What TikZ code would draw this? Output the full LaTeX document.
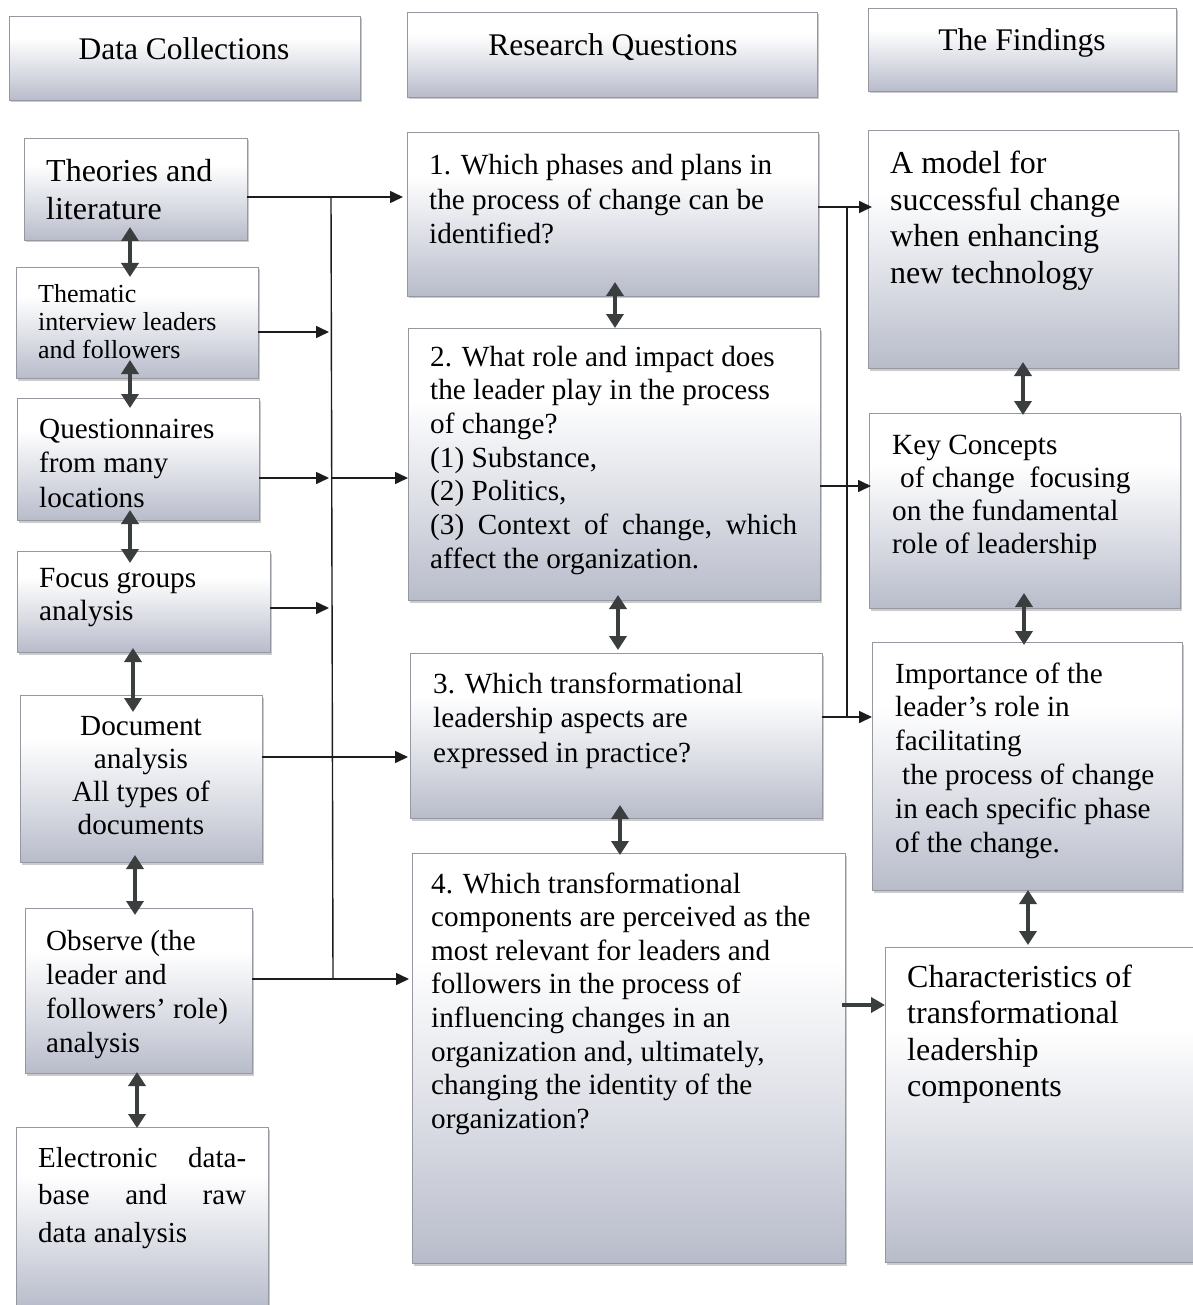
\documentclass[tikz,border=0pt]{standalone}
\usepackage{fontspec}
\setmainfont{Liberation Serif}
\usetikzlibrary{arrows.meta,shadows}

\definecolor{boxbot}{RGB}{184,188,202}
\definecolor{boxmid}{RGB}{218,220,228}
\definecolor{boxline}{RGB}{150,152,160}
\definecolor{dblcol}{RGB}{58,62,62}
\definecolor{arrcol}{RGB}{28,28,28}

% white upper part fading into a grey-blue foot
\pgfdeclareverticalshading{panelshade}{100bp}{%
  color(0bp)=(boxbot); color(25bp)=(boxbot); color(42bp)=(boxmid);
  color(62bp)=(white); color(75bp)=(white); color(100bp)=(white)}

\begin{document}
\begin{tikzpicture}[x=1pt,y=-1pt,
  panel/.style={draw=boxline, line width=0.7pt, shading=panelshade,
    inner sep=0pt, outer sep=0pt, anchor=north west,
    drop shadow={shadow xshift=1.5pt, shadow yshift=-2.5pt, fill=gray!80, opacity=0.5}},
  txt/.style={inner sep=0pt, anchor=base west, align=flush left, text width=#1},
  txt/.default=450pt,
  head/.style={inner sep=0pt, anchor=base, font=\fontsize{31.5}{36}\selectfont},
  dbl/.style={draw=dblcol, line width=4.5pt,
    {Triangle[length=14pt,width=17pt]}-{Triangle[length=14pt,width=17pt]}},
  fat/.style={draw=dblcol, line width=4.5pt, -{Triangle[length=14pt,width=15pt]}},
  arr/.style={draw=arrcol, line width=1.6pt, -{Triangle[length=13pt,width=12pt]}},
  ln/.style={draw=arrcol, line width=1.4pt}
]
\fill[white] (0,0) rectangle (1192,1305);
\useasboundingbox (0,0) rectangle (1192,1305);

% ---- column headings
\node[panel, minimum width=351pt, minimum height=84pt] (hdc) at (9,16) {};
\node[panel, minimum width=410pt, minimum height=85pt] (hrq) at (407,12) {};
\node[panel, minimum width=308pt, minimum height=83pt] (hfd) at (868,8) {};
\node[head] (hdc-t) at (184,60) {Data Collections};
\node[head] (hrq-t) at (613,56) {Research Questions};
\node[head] (hfd-t) at (1022,51) {The Findings};

% ---- data collection boxes
\node[panel, minimum width=223pt, minimum height=102pt] (lit) at (24,138) {};
\node[panel, minimum width=242pt, minimum height=111pt] (thm) at (16,267) {};
\node[panel, minimum width=242pt, minimum height=122pt] (qst) at (17,398) {};
\node[panel, minimum width=253pt, minimum height=101pt] (fcs) at (17,551) {};
\node[panel, minimum width=242pt, minimum height=167pt] (doc) at (20,695) {};
\node[panel, minimum width=227pt, minimum height=165pt] (obs) at (25,908) {};
\node[panel, minimum width=252pt, minimum height=181pt] (elc) at (16,1127) {};

\node[txt, font=\fontsize{32}{38}\selectfont] (lit-t) at (46,182) {Theories and\\literature};
\node[txt, font=\fontsize{26}{28}\selectfont] (thm-t) at (38,302) {Thematic\\interview leaders\\and followers};
\node[txt, font=\fontsize{29.2}{34.5}\selectfont] (qst-t) at (39,438) {Questionnaires\\from many\\locations};
\node[txt, font=\fontsize{29.3}{33}\selectfont] (fcs-t) at (39,587) {Focus groups\\analysis};
\node[inner sep=0pt, anchor=base, align=flush center, text width=240pt,
      font=\fontsize{29.2}{33}\selectfont] (doc-t) at (141,735) {Document\\analysis\\All types of\\documents};
\node[txt, font=\fontsize{29.1}{34}\selectfont] (obs-t) at (46,950) {Observe (the\\leader and\\followers’ role)\\analysis};
\node[txt=208pt, font=\fontsize{29}{37.5}\selectfont] (elc-t) at (38,1167)
      {Electronic\hfill data-\\base\hfill and\hfill raw\\data analysis};

% ---- research question boxes
\node[panel, minimum width=411pt, minimum height=164pt] (q1) at (407,132) {};
\node[panel, minimum width=412pt, minimum height=272pt] (q2) at (408,328) {};
\node[panel, minimum width=412pt, minimum height=165pt] (q3) at (410,653) {};
\node[panel, minimum width=433pt, minimum height=410pt] (q4) at (412,853) {};

\node[txt, font=\fontsize{29.2}{34.5}\selectfont] (q1-t) at (429,175)
  {1. Which phases and plans in\\the process of change can be\\identified?};
\node[txt=367pt, font=\fontsize{29.2}{33.7}\selectfont] (q2-t) at (430,366)
  {2. What role and impact does\\the leader play in the process\\of change?\\(1) Substance,\\(2) Politics,\\(3)\hfill Context\hfill of\hfill change,\hfill which\\affect the organization.};
\node[txt, font=\fontsize{29.2}{34.5}\selectfont] (q3-t) at (433,693)
  {3. Which transformational\\leadership aspects are\\expressed in practice?};
\node[txt, font=\fontsize{29.2}{33.6}\selectfont] (q4-t) at (431,893)
  {4. Which transformational\\components are perceived as the\\most relevant for leaders and\\followers in the process of\\influencing changes in an\\organization and, ultimately,\\changing the identity of the\\organization?};

% ---- findings boxes
\node[panel, minimum width=310pt, minimum height=238pt] (f1) at (868,130) {};
\node[panel, minimum width=311pt, minimum height=195pt] (f2) at (869,413) {};
\node[panel, minimum width=310pt, minimum height=248pt] (f3) at (872,642) {};
\node[panel, minimum width=310pt, minimum height=315pt] (f4) at (885,947) {};

\node[txt, font=\fontsize{32}{36.5}\selectfont] (f1-t) at (890,174)
  {A model for\\successful change\\when enhancing\\new technology};
\node[txt, font=\fontsize{29.3}{33}\selectfont] (f2-t) at (892,454)
  {Key Concepts\\\hspace*{8pt}of change\ \ focusing\\on the fundamental\\role of leadership};
\node[txt, font=\fontsize{29.2}{33.8}\selectfont] (f3-t) at (895,683)
  {Importance of the\\leader’s role in\\facilitating\\\hspace*{7pt}the process of change\\in each specific phase\\of the change.};
\node[txt, font=\fontsize{32}{36.5}\selectfont] (f4-t) at (907,987)
  {Characteristics of\\transformational\\leadership\\components};

% ---- links between neighbouring boxes
\draw[dbl, shorten <=-13pt, shorten >=-10pt] (lit.south -| 130,0) -- (thm.north -| 130,0);
\draw[dbl, shorten <=-18pt, shorten >=-10pt] (thm.south -| 130,0) -- (qst.north -| 130,0);
\draw[dbl, shorten <=-10pt, shorten >=-12pt] (qst.south -| 130,0) -- (fcs.north -| 130,0);
\draw[dbl, shorten <=-4pt, shorten >=-17pt] (fcs.south -| 133,0) -- (doc.north -| 133,0);
\draw[dbl, shorten <=-7pt, shorten >=-7pt] (doc.south -| 135,0) -- (obs.north -| 135,0);
\draw[dbl, shorten <=-1pt, shorten >=-1pt] (obs.south -| 137,0) -- (elc.north -| 137,0);

\draw[dbl, shorten <=-14pt, shorten >=0pt] (q1.south -| 615,0) -- (q2.north -| 615,0);
\draw[dbl, shorten <=-5pt, shorten >=3pt] (q2.south -| 618,0) -- (q3.north -| 618,0);
\draw[dbl, shorten <=-13pt, shorten >=-2pt] (q3.south -| 620,0) -- (q4.north -| 620,0);

\draw[dbl, shorten <=-6pt, shorten >=-2pt] (f1.south -| 1023,0) -- (f2.north -| 1023,0);
\draw[dbl, shorten <=-15pt, shorten >=-3pt] (f2.south -| 1024,0) -- (f3.north -| 1024,0);
\draw[dbl, shorten <=0pt, shorten >=2pt] (f3.south -| 1028,0) -- (f4.north -| 1028,0);

% ---- collection bus into the questions
\coordinate (bt) at (331,197);
\coordinate (bb) at (333,979);
\coordinate (j2) at (331,332);
\coordinate (j3) at (331,478);
\coordinate (j4) at (332,608);
\coordinate (j5) at (332,757);
\draw[ln] (bt) -- (bb);
\draw[arr, shorten >=4pt] (lit.east |- bt) -- (q1.west |- bt);
\draw[arr, shorten >=2pt] (thm.east |- j2) -- (j2);
\draw[arr, shorten >=2pt] (qst.east |- j3) -- (j3);
\draw[arr] (j3) -- (q2.west |- j3);
\draw[arr, shorten >=3pt] (fcs.east |- j4) -- (j4);
\draw[arr, shorten >=2pt] (doc.east |- j5) -- (q3.west |- j5);
\draw[arr, shorten >=3pt] (obs.east |- bb) -- (q4.west |- bb);

% ---- questions bus into the findings
\coordinate (rt) at (847,207);
\coordinate (r2) at (847,486);
\coordinate (rb) at (847,717);
\coordinate (r4) at (860,1005);
\draw[ln] (rt) -- (rb);
\draw[arr, shorten >=-4pt] (q1.east |- rt) -- (f1.west |- rt);
\draw[arr, shorten >=-2pt] (q2.east |- r2) -- (f2.west |- r2);
\draw[arr] (q3.east |- rb) -- (f3.west |- rb);
\draw[fat, shorten <=-3pt] (q4.east |- r4) -- (f4.west |- r4);
\end{tikzpicture}
\end{document}
